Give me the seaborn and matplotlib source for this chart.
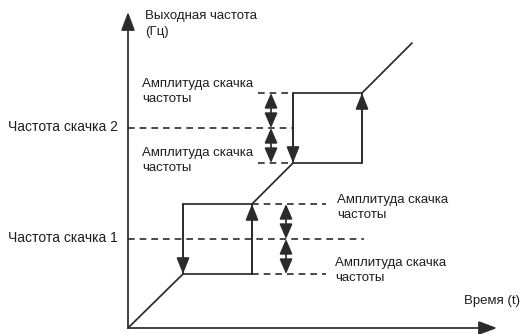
import numpy as np
import pandas as pd
import matplotlib
matplotlib.use("Agg")
import matplotlib.pyplot as plt
import seaborn as sns

# данные схемы (время t, частота f)
jump_names = ["Частота скачка 1", "Частота скачка 2"]
jump_freq = [89, 200]
jump_amp = [35, 35]
box_start = [55, 165]
box_end = [124, 234]
line_end = [284, 285]
amp_label = "Амплитуда скачка\nчастоты"

sns.set_theme(style="white")
plt.rcParams["font.family"] = ["Liberation Sans", "DejaVu Sans"]

col = "#2b2b2b"
fig = plt.figure(figsize=(5.23, 3.34), dpi=100)
ax = fig.add_axes([0, 0, 1, 1])
ax.set_xlim(-128, 395)
ax.set_ylim(-6, 328)
ax.axis("off")

# сплошные линии: диагональ и петли гистерезиса
rows = []
seg = 0
pts = [(0, 0)]
for i in range(2):
    lo = jump_freq[i] - jump_amp[i]
    hi = jump_freq[i] + jump_amp[i]
    pts += [(box_start[i], lo), (box_end[i], lo), (box_end[i], hi)]
    # верх и левая сторона петли
    for t, f in [(box_end[i], hi), (box_start[i], hi), (box_start[i], lo)]:
        rows.append({"t": t, "f": f, "seg": 100 + i})
pts.append(tuple(line_end))
for t, f in pts:
    rows.append({"t": t, "f": f, "seg": seg})
df = pd.DataFrame(rows)
sns.lineplot(data=df, x="t", y="f", units="seg", estimator=None, sort=False,
             color=col, lw=1.25, ax=ax)

# пунктирные линии
dash = (0, (4, 3))
center_end = [236, 165]
amp_from = [124, 130]
amp_to = [198, 165]
dash_rows = []
k = 0
for i in range(2):
    lo = jump_freq[i] - jump_amp[i]
    hi = jump_freq[i] + jump_amp[i]
    for t0, t1, f in [(0, center_end[i], jump_freq[i]),
                      (amp_from[i], amp_to[i], lo),
                      (amp_from[i], amp_to[i], hi)]:
        dash_rows += [{"t": t0, "f": f, "seg": k}, {"t": t1, "f": f, "seg": k}]
        k += 1
ddf = pd.DataFrame(dash_rows)
sns.lineplot(data=ddf, x="t", y="f", units="seg", estimator=None, sort=False,
             color=col, lw=1.2, linestyle=dash, ax=ax)

def arrow(x0, y0, x1, y1, style="-|>,head_length=0.7,head_width=0.28", ms=14):
    ax.annotate("", xy=(x1, y1), xytext=(x0, y0),
                arrowprops=dict(arrowstyle=style, mutation_scale=ms, lw=1.25,
                                color=col, shrinkA=0, shrinkB=0))

# оси
arrow(0, 0, 0, 316, "-|>,head_length=0.8,head_width=0.3")
arrow(0, 0, 369, 0, "-|>,head_length=0.8,head_width=0.3")

# стрелки на петлях
for i in range(2):
    lo = jump_freq[i] - jump_amp[i]
    hi = jump_freq[i] + jump_amp[i]
    arrow(box_start[i], hi, box_start[i], lo)
    arrow(box_end[i], lo, box_end[i], hi)

# двойные стрелки амплитуды
amp_t = [158, 143]
for i in range(2):
    lo = jump_freq[i] - jump_amp[i]
    hi = jump_freq[i] + jump_amp[i]
    st = "<|-|>,head_length=0.65,head_width=0.28"
    arrow(amp_t[i], jump_freq[i], amp_t[i], hi, st, 14)
    arrow(amp_t[i], lo, amp_t[i], jump_freq[i], st, 14)

fs = 9.5
tc = "#1e1e1e"
ax.text(17, 318, "Выходная частота\n(Гц)", fontsize=fs, va="top", ha="left",
        linespacing=1.45, color=tc)
ax.text(392, 27, "Время (t)", fontsize=fs, va="center", ha="right", color=tc)
for i in range(2):
    ax.text(-120, jump_freq[i] + 1, jump_names[i], fontsize=fs + 0.5,
            va="center", ha="left", color=tc)

ax.text(14, 250, amp_label, fontsize=fs, va="top", ha="left", linespacing=1.35, color=tc)
ax.text(14, 181, amp_label, fontsize=fs, va="top", ha="left", linespacing=1.35, color=tc)
ax.text(209, 134, amp_label, fontsize=fs, va="top", ha="left", linespacing=1.35, color=tc)
ax.text(207, 71, amp_label, fontsize=fs, va="top", ha="left", linespacing=1.35, color=tc)

fig.savefig("out.png", dpi=100)
